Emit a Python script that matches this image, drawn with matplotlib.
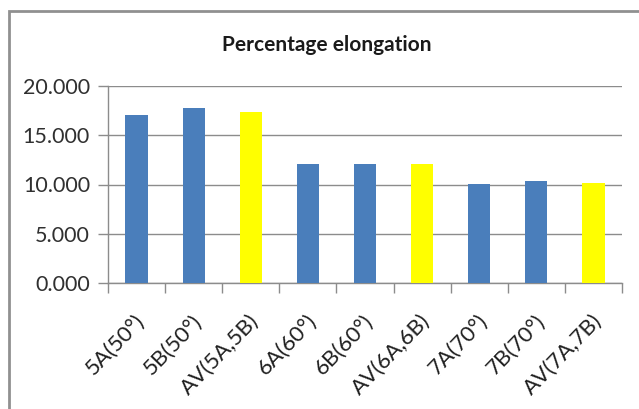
import numpy as np
import matplotlib.pyplot as plt
import matplotlib.transforms as mtransforms
from matplotlib.patches import Rectangle

plt.rcParams['font.family'] = ['Lato', 'DejaVu Sans']

# sample labels and elongation values (%)
labels = ['5A(50°)', '5B(50°)', 'AV(5A,5B)', '6A(60°)', '6B(60°)', 'AV(6A,6B)',
          '7A(70°)', '7B(70°)', 'AV(7A,7B)']
elongation = [17.03, 17.80, 17.40, 12.11, 12.11, 12.08, 10.08, 10.32, 10.20]
is_average = [False, False, True, False, False, True, False, False, True]

blue = '#4a7ebb'
yellow = '#ffff00'
grid_col = '#8c8c8c'

fig = plt.figure(figsize=(6.39, 4.09), dpi=100)
ax = fig.add_axes([108 / 639, 126 / 409, 514 / 639, 197 / 409])

x = np.arange(len(labels))
colors = [yellow if a else blue for a in is_average]
ax.bar(x, elongation, width=0.39, color=colors, zorder=3)

ax.set_xlim(-0.5, len(labels) - 0.5)
ax.set_ylim(0, 20)
ax.set_yticks(np.arange(0, 20.1, 5))
ax.set_yticklabels(['%.3f' % v for v in np.arange(0, 20.1, 5)], fontsize=15.5,
                   color='#303030')

# category ticks sit on the boundaries
ax.set_xticks(np.arange(-0.5, len(labels)))
ax.set_xticklabels([])
ax.tick_params(axis='x', length=7, color=grid_col, width=1)
ax.tick_params(axis='y', length=7, color=grid_col, width=1, pad=6)

# slanted category names hanging below each bar
shift = mtransforms.ScaledTranslation(-0.02, -0.28, fig.dpi_scale_trans)
for xi, lab in zip(x, labels):
    ax.text(xi, 0, lab, transform=ax.get_xaxis_transform() + shift,
            rotation=46, ha='right', va='top', rotation_mode='anchor',
            fontsize=16, color='#202020')

ax.grid(axis='y', color=grid_col, linewidth=1, zorder=0)
for side in ['top', 'right']:
    ax.spines[side].set_visible(False)
for side in ['left', 'bottom']:
    ax.spines[side].set_color(grid_col)
    ax.spines[side].set_linewidth(1)

fig.text(327 / 639, 1 - 45 / 409, 'Percentage elongation', ha='center',
         va='center', fontsize=15, fontweight='bold', color='#1a1a1a')

# chart area frame
fig.patches.append(Rectangle((9 / 639, -0.2), 1.2, 0.2 + 1 - 11 / 409,
                             transform=fig.transFigure, fill=False,
                             edgecolor='#909090', linewidth=2))

fig.savefig('out.png', dpi=100)
